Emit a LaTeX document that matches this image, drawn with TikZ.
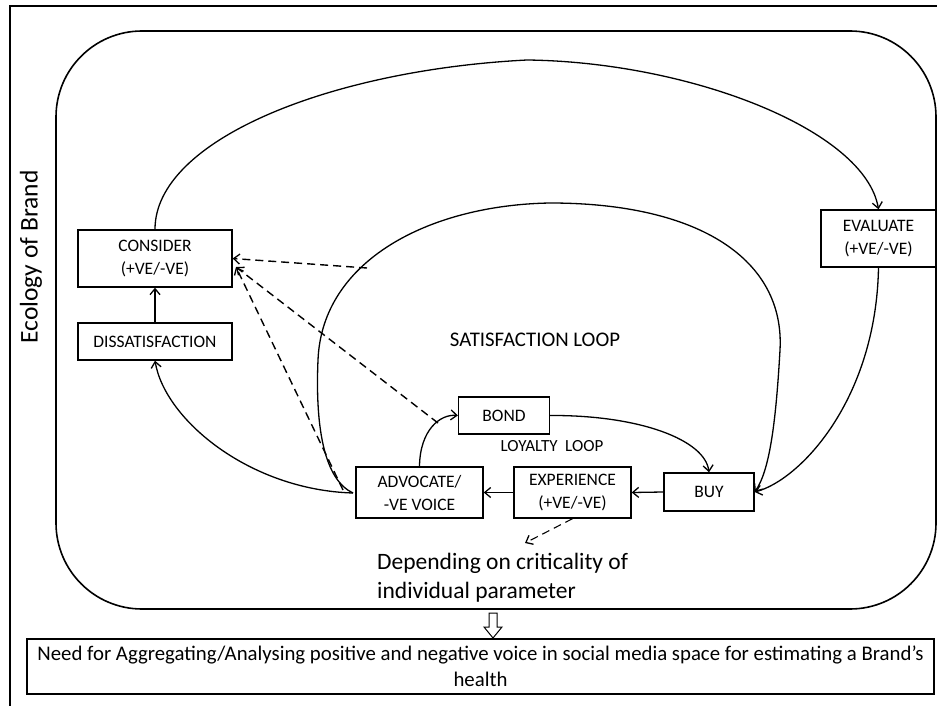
\documentclass[tikz,border=0pt]{standalone}
\usepackage{fontspec}
\setmainfont{Carlito}
\usetikzlibrary{arrows.meta}
\tikzset{
  box/.style={draw, line width=1.4pt, inner sep=0pt, align=center,
    font=\fontsize{17.5}{23}\selectfont},
  lbl/.style={inner sep=0pt, align=center},
  conn/.style={line width=1.3pt, -{Straight Barb[length=6pt,width=10pt,line width=1.3pt]}},
  plain/.style={line width=1.3pt},
  dsh/.style={line width=1.4pt, dash pattern=on 8pt off 5pt},
  dshar/.style={dsh, -{Straight Barb[length=6pt,width=10pt,line width=1.3pt]}}
}
\begin{document}
\begin{tikzpicture}[x=1pt,y=-1pt]
\useasboundingbox (0,0) rectangle (937,706);
% outer frame (only top and left visible)
\draw[line width=1.6pt] (10,706) -- (10,6) -- (937,6);
% ecology rounded rectangle
\draw[line width=1.6pt, rounded corners=86pt] (56,31) rectangle (936,609);
\node[lbl, rotate=90, font=\fontsize{25.5}{30}\selectfont] (eco) at (31,257) {Ecology of Brand};

% boxes
\node[box, minimum width=154pt, minimum height=57pt] (consider) at (155,258.5) {CONSIDER\\(+VE/-VE)};
\node[box, minimum width=154pt, minimum height=37pt] (dissat) at (155,341.5) {DISSATISFACTION};
\node[box, minimum width=115pt, minimum height=57pt] (evaluate) at (878.5,238.5) {EVALUATE\\(+VE/-VE)};
\node[box, minimum width=91pt, minimum height=37pt] (bond) at (504,415.5) {BOND};
\node[box, minimum width=127pt, minimum height=51pt] (advocate) at (419.5,492.5) {ADVOCATE/\\-VE VOICE};
\node[box, minimum width=117pt, minimum height=51pt] (experience) at (572.5,492.5) {EXPERIENCE\\(+VE/-VE)};
\node[box, minimum width=90pt, minimum height=38pt] (buy) at (709,492) {BUY};

\node[lbl, font=\fontsize{17}{20}\selectfont] (loyalty) at (552,446) {LOYALTY\ \ LOOP};
\node[lbl, font=\fontsize{20.8}{24}\selectfont] (satisf) at (535,340) {SATISFACTION LOOP};
\node[lbl, align=left, anchor=west, font=\fontsize{23.5}{29}\selectfont] (depend) at (377,577.5) {Depending on criticality of\\individual parameter};

\node[draw, line width=1.4pt, minimum width=907pt, minimum height=55pt, inner sep=0pt, align=center, font=\fontsize{20.8}{26}\selectfont] (need) at (480.5,666.5) {Need for Aggregating/Analysing positive and negative voice in social media space for estimating a Brand's\\health};

% hollow down arrow
\draw[line width=1pt] (489,613) -- (497,613) -- (497,627) -- (502,627) -- (493,638) -- (484,627) -- (489,627) -- cycle;

% connectors
\coordinate (advl) at (353,493);
\draw[conn] (dissat.north) -- (consider.south);
\draw[conn] (consider.north) .. controls (155,140) and (330,70) .. (527,60)
   .. controls (690,62) and (865,130) .. (evaluate.north);
\draw[conn] (evaluate.south) .. controls (876,400) and (800,480) .. (buy.east);
\draw[conn] (advl) .. controls (325,480) and (315,430) .. (318,360)
   .. controls (322,260) and (430,205) .. (550,203)
   .. controls (700,203) and (785,260) .. (780,350)
   .. controls (776,420) and (770,470) .. (buy.east);
\draw[conn] (advl) .. controls (250,490) and (165,420) .. (dissat.south);
\draw[conn] (buy.west) -- (experience.east);
\draw[conn] (experience.west) -- (advocate.east);
\draw[conn] (advocate.north) .. controls (420,430) and (440,414) .. (bond.west);
\draw[conn] (bond.east) .. controls (640,415) and (705,440) .. (buy.north);

% dashed
\coordinate (d1) at (367,268);
\coordinate (d2) at (438,423);
\coordinate (d3) at (343,490);
\coordinate (ctgt) at (236,267);
\coordinate (dep) at (525,543);
\draw[dshar] (d1) -- (consider.east);
\draw[dshar] (d2) -- (ctgt);
\draw[dshar] (d3) -- (ctgt);
\draw[dshar, line width=1.1pt] (experience.south) -- (dep);
\end{tikzpicture}
\end{document}
